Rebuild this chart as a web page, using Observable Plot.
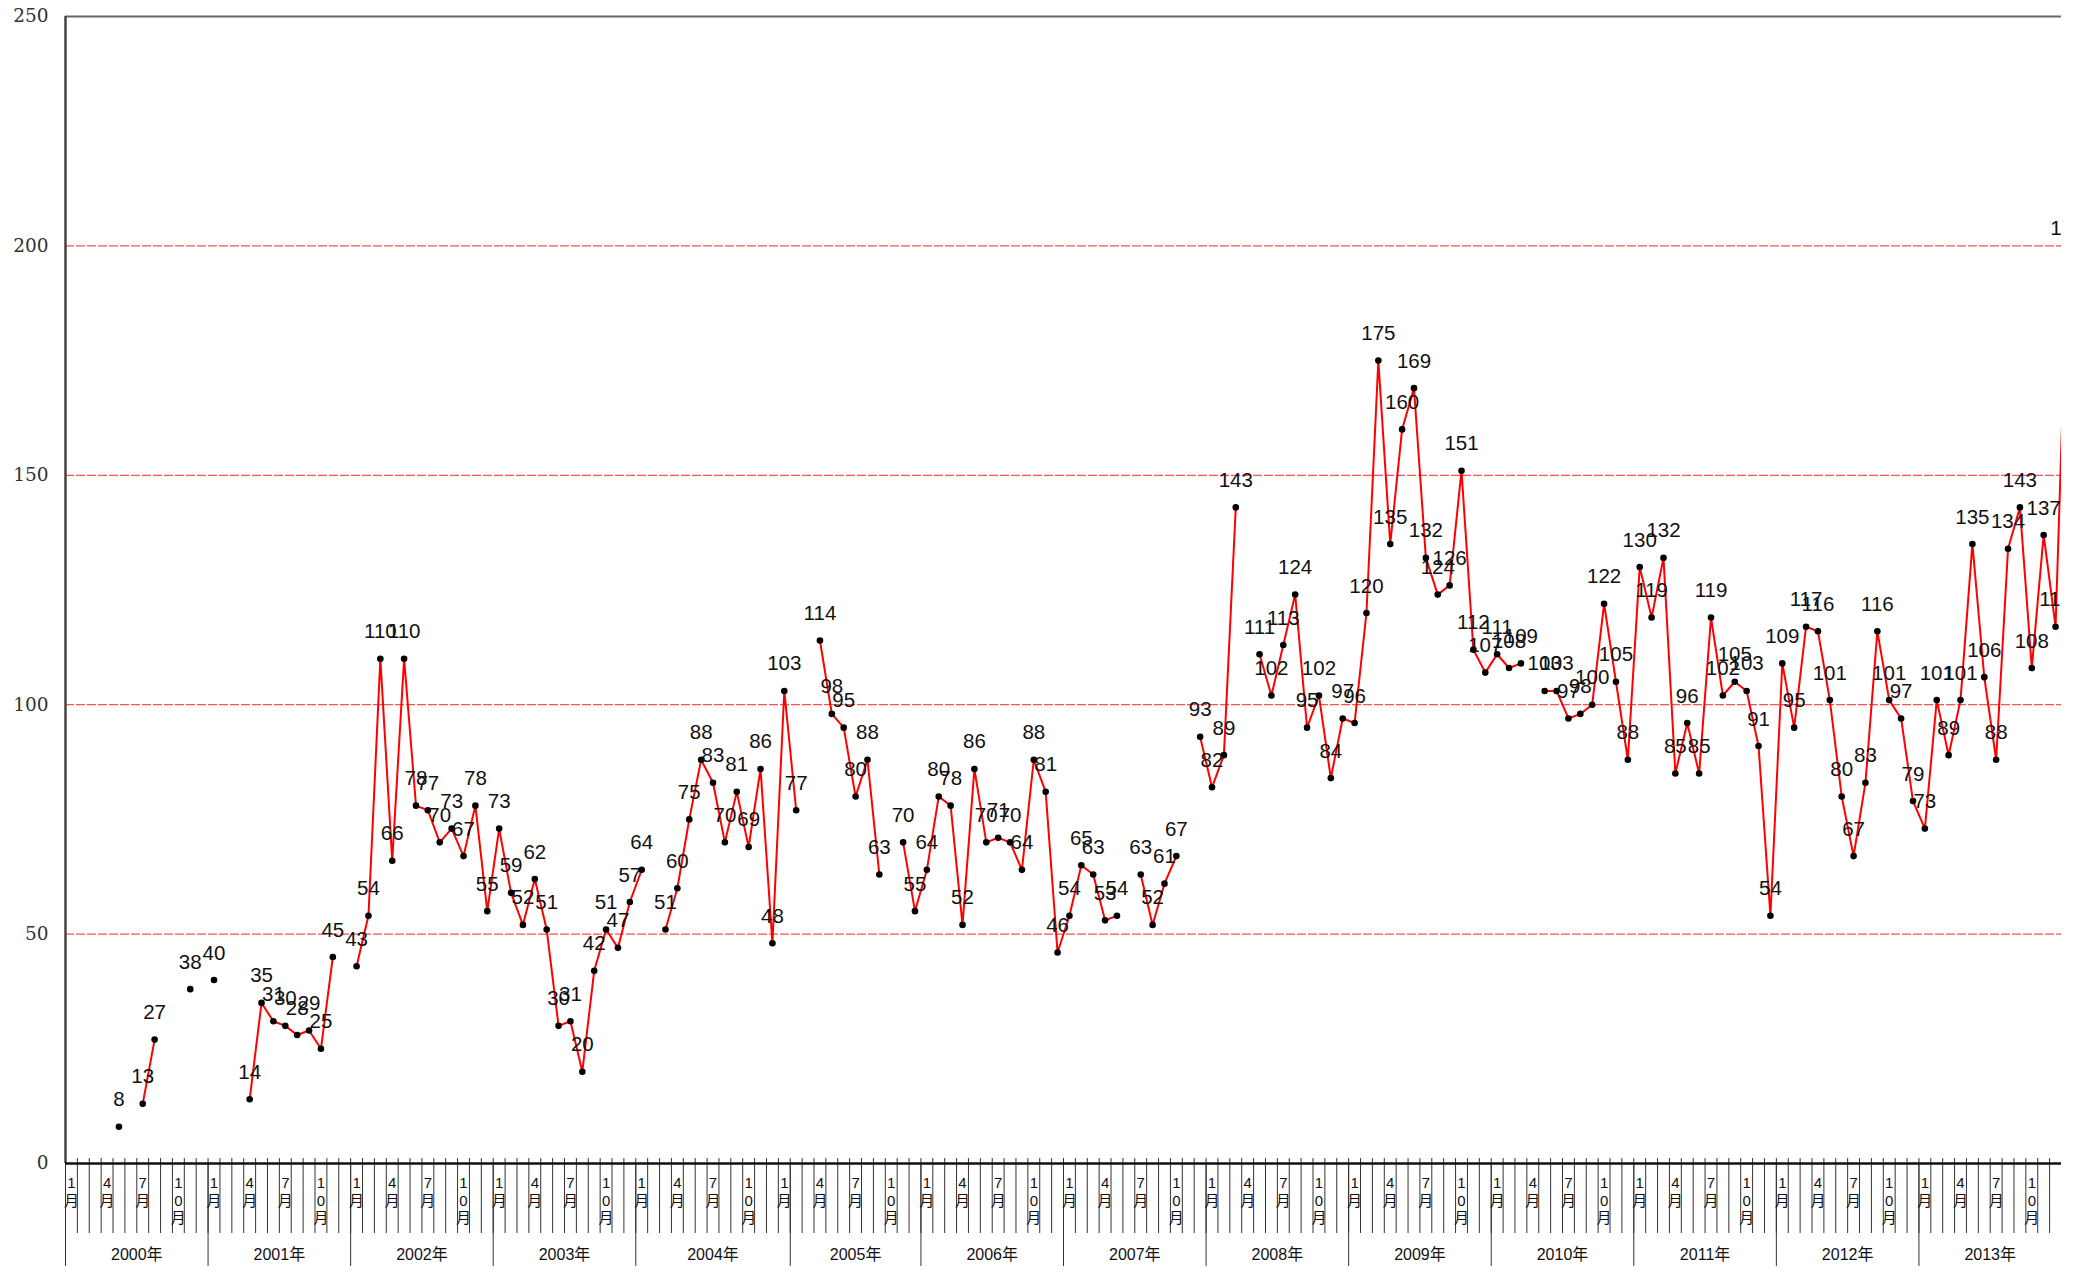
<!DOCTYPE html>
<html>
<head>
<meta charset="utf-8">
<script src="https://cdn.jsdelivr.net/npm/d3@7"></script>
<script src="https://cdn.jsdelivr.net/npm/@observablehq/plot@0.6"></script>
<style>
  html, body { margin: 0; padding: 0; background: #fff; }
  svg { display: block; }
</style>
</head>
<body>
<div id="chart"></div>
<script>
// ---- Data (monthly values, null = no data) ----
const v2000 = [null, null, null, null, 8, null, 13, 27, null, null, 38, null];
const v2001 = [40, null, null, 14, 35, 31, 30, 28, 29, 25, 45, null];
const v2002 = [43, 54, 110, 66, 110, 78, 77, 70, 73, 67, 78, 55];
const v2003 = [73, 59, 52, 62, 51, 30, 31, 20, 42, 51, 47, 57];
const v2004 = [64, null, 51, 60, 75, 88, 83, 70, 81, 69, 86, 48];
const v2005 = [103, 77, null, 114, 98, 95, 80, 88, 63, null, 70, 55];
const v2006 = [64, 80, 78, 52, 86, 70, 71, 70, 64, 88, 81, 46];
const v2007 = [54, 65, 63, 53, 54, null, 63, 52, 61, 67, null, 93];
const v2008 = [82, 89, 143, null, 111, 102, 113, 124, 95, 102, 84, 97];
const v2009 = [96, 120, 175, 135, 160, 169, 132, 124, 126, 151, 112, 107];
const v2010 = [111, 108, 109, null, 103, 103, 97, 98, 100, 122, 105, 88];
const v2011 = [130, 119, 132, 85, 96, 85, 119, 102, 105, 103, 91, 54];
const v2012 = [109, 95, 117, 116, 101, 80, 67, 83, 116, 101, 97, 79];
const v2013 = [73, 101, 89, 101, 135, 106, 88, 134, 143, 108, 137, 117];
const v2014 = [198]; // first month beyond the visible axis (clipped)

// ---- Axis labels ----
const years = ["2000年", "2001年", "2002年", "2003年", "2004年", "2005年", "2006年",
               "2007年", "2008年", "2009年", "2010年", "2011年", "2012年", "2013年"];
const yearGroupSizes = [12, 12, 12, 12, 13, 11, 12, 12, 12, 12, 12, 12, 12, 12];
const monthTickLabels = ["1月", "4月", "7月", "10月"];
const yTicks = [0, 50, 100, 150, 200, 250];
const gridValues = [50, 100, 150, 200];

// ---- Derived tables ----
const series = [v2000, v2001, v2002, v2003, v2004, v2005, v2006, v2007,
                v2008, v2009, v2010, v2011, v2012, v2013, v2014].flat();
const data = series.map((v, i) => ({i, v: v == null ? NaN : v}));
const points = data.filter(d => !isNaN(d.v));
const nMonths = 168;

const monthTicks = d3.range(0, nMonths, 3).map(i => ({i, label: monthTickLabels[(i % 12) / 3]}));
const monthBounds = d3.range(0, nMonths).map(i => i - 0.5);
let s = 0;
const groups = years.map((y, j) => {
  const start = s; s += yearGroupSizes[j];
  return {year: y, start, center: (start + s - 1) / 2};
});
const yearBounds = groups.map(g => g.start - 0.5);

const sans = "'Liberation Sans', Arial, 'Noto Sans CJK JP', sans-serif";

const chart = Plot.plot({
  width: 2079,
  height: 1272,
  marginTop: 16,
  marginBottom: 109,
  marginLeft: 65,
  marginRight: 18,
  style: {background: "#fff", fontFamily: sans},
  x: {type: "linear", domain: [-0.5, nMonths - 0.5], axis: null},
  y: {type: "linear", domain: [0, 250], axis: null},
  marks: [
    Plot.ruleY(gridValues, {stroke: "#ff5252", strokeWidth: 1.2, strokeDasharray: "9,2"}),
    Plot.ruleY([250], {stroke: "#666", strokeWidth: 2}),
    // month boundary ticks below the axis
    Plot.ruleX(monthBounds, {x: d => d, y1: 0, y2: 0, insetTop: -5, insetBottom: -70, stroke: "#333", strokeWidth: 1}),
    // year group separators
    Plot.ruleX(yearBounds, {x: d => d, y1: 0, y2: 0, insetBottom: -103, stroke: "#333", strokeWidth: 1}),
    Plot.ruleX([-0.5], {y1: 0, y2: 250, stroke: "#444", strokeWidth: 2.5}),
    Plot.ruleY([0], {stroke: "#111", strokeWidth: 2.5}),
    // data
    Plot.line(data, {x: "i", y: "v", stroke: "#ff0000", strokeWidth: 2, clip: true}),
    Plot.dot(points, {x: "i", y: "v", r: 3.3, fill: "#000", stroke: "none", clip: true}),
    Plot.text(points, {x: "i", y: "v", text: d => String(d.v), dy: -27, fontSize: 20.5, fill: "#111", clip: true}),
    // y tick labels
    Plot.text(yTicks, {x: -0.5, y: d => d, text: d => String(d), textAnchor: "end", dx: -17,
                       fontFamily: "'DejaVu Serif', serif", fontSize: 18.5, fill: "#333"}),
    // month labels (stacked vertical)
    Plot.text(monthTicks, {x: "i", y: 0, text: d => d.label.split("").join("\n"), lineAnchor: "top",
                           dy: 12, fontSize: 15, lineHeight: 1.18, fill: "#111"}),
    // year labels
    Plot.text(groups, {x: "center", y: 0, text: "year", dy: 91, fontSize: 16, fill: "#111"})
  ]
});
document.getElementById("chart").appendChild(chart);
</script>
</body>
</html>
